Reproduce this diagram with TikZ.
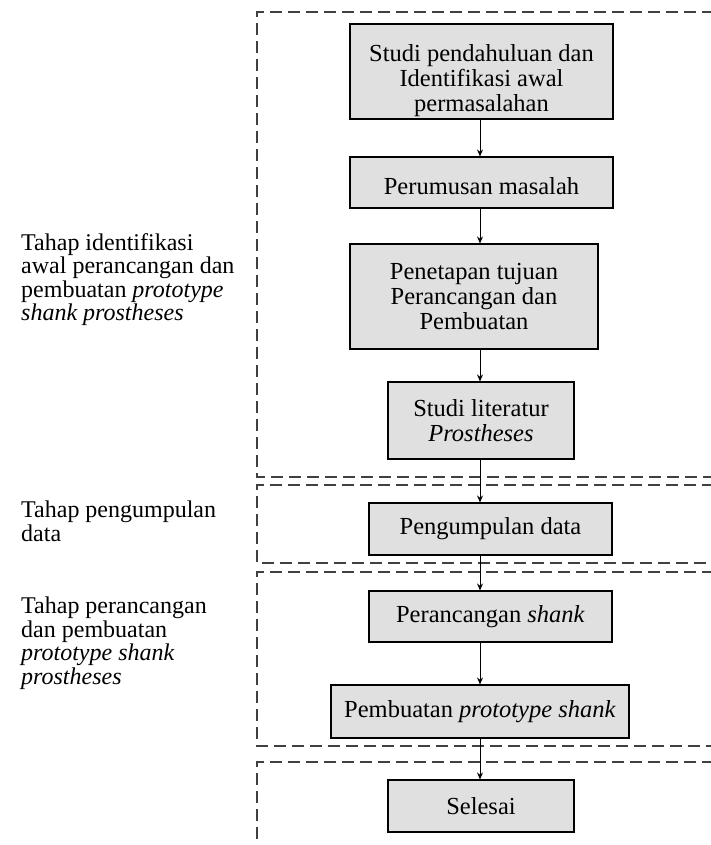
\documentclass[tikz,border=0pt]{standalone}
\usepackage{fontspec}
\setmainfont{Liberation Serif}
\usetikzlibrary{arrows.meta}

\begin{document}
\begin{tikzpicture}[x=1pt,y=-1pt,
    box/.style={draw=black,fill=black!12,line width=1.1pt,inner sep=0pt,align=center,font=\fontsize{24.5}{25}\selectfont},
    stage/.style={anchor=north west,inner sep=0pt,align=left,font=\fontsize{24}{23.5}\selectfont},
    frame/.style={draw=black!75,line width=1.2pt,dash pattern=on 12pt off 6pt},
    flow/.style={line width=0.9pt,-{Stealth[length=7pt,width=6pt]}}]
\useasboundingbox (0,0) rectangle (710,845);
% kotak tahapan (putus-putus)
\draw[frame] (714,12) -- (257,12) -- (257,477) -- (714,477);
\draw[frame] (714,485) -- (257,485) -- (257,563) -- (714,563);
\draw[frame] (714,572) -- (257,572) -- (257,746) -- (714,746);
\draw[frame] (714,762) -- (257,762) -- (257,850);
% langkah
\node[box,minimum width=263pt,minimum height=95pt] (studi) at (481.5,71.5) {\rule{0pt}{36pt}Studi pendahuluan dan\\Identifikasi awal\\permasalahan};
\node[box,minimum width=263pt,minimum height=51pt] (rumusan) at (481.5,182.5) {\rule{0pt}{24pt}Perumusan masalah};
\node[box,minimum width=248pt,minimum height=105pt] (tujuan) at (474,296.5) {Penetapan tujuan\\Perancangan dan\\Pembuatan};
\node[box,minimum width=186pt,minimum height=77pt] (literatur) at (481,420.5) {Studi literatur\\\textit{Prostheses}};
\node[box,minimum width=243pt,minimum height=52pt] (data) at (490.5,529) {Pengumpulan data};
\node[box,minimum width=243pt,minimum height=51pt] (rancang) at (490.5,616.5) {Perancangan \textit{shank}};
\node[box,minimum width=298pt,minimum height=53pt] (prototipe) at (480,711.5) {Pembuatan \textit{prototype shank}};
\node[box,minimum width=186pt,minimum height=52pt] (selesai) at (481,806) {Selesai};
% panah
\coordinate (axis) at (480,0);
\foreach \a/\b in {studi/rumusan,rumusan/tujuan,tujuan/literatur,literatur/data,data/rancang,rancang/prototipe,prototipe/selesai}
  \draw[flow] (\a.south -| axis) -- (\b.north -| axis);
% keterangan tahap
\node[stage] (tahapa) at (21,233) {Tahap identifikasi\\awal perancangan dan\\pembuatan \textit{prototype}\\\textit{shank prostheses}};
\node[stage] (tahapb) at (21,501) {Tahap pengumpulan\\data};
\node[stage] (tahapc) at (21,597) {Tahap perancangan\\dan pembuatan\\\textit{prototype shank}\\\textit{prostheses}};
\end{tikzpicture}
\end{document}
